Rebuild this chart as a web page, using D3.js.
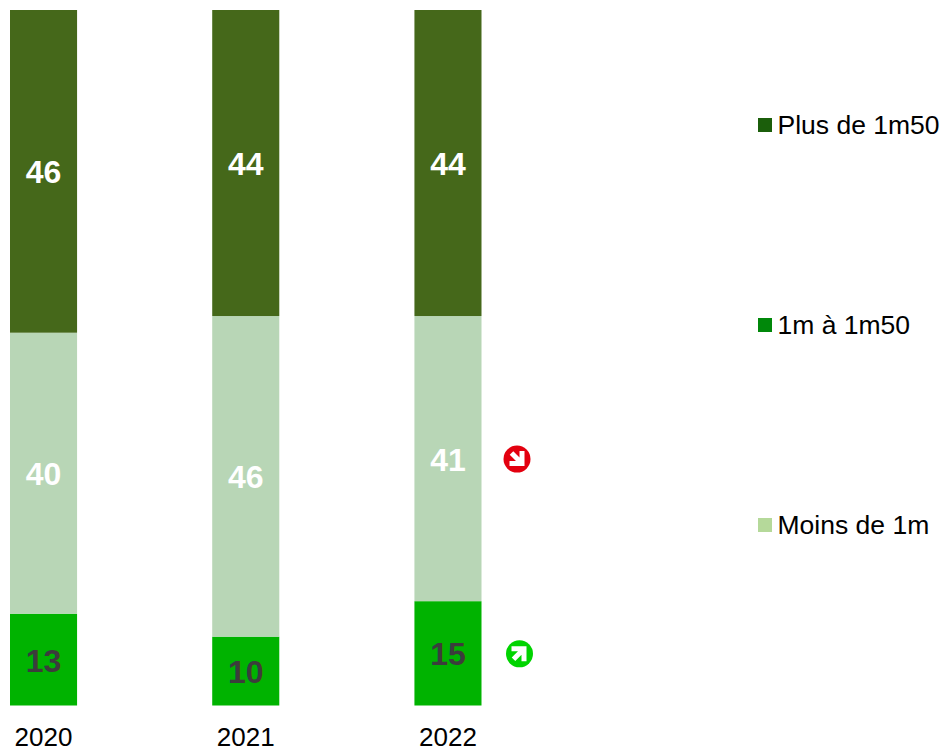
<!DOCTYPE html>
<html>
<head>
<meta charset="utf-8">
<script src="https://cdn.jsdelivr.net/npm/d3@7"></script>
<style>
    html, body { margin: 0; padding: 0; background: #fff; }
    svg { display: block; }
    text { font-family: "Liberation Sans", Arial, sans-serif; }
</style>
</head>
<body>
<div id="chart"></div>
<script>
// Stacked shares by year, bottom segment first

const years = ['2020', '2021', '2022'];
const seriesKeys = ['moins', 'milieu', 'plus'];

// labels show them rounded
const moinsValues = [13.2, 9.9, 15];
const milieuValues = [40.4, 46.1, 41];
const plusValues = [46.4, 44, 44];

const legendLabels = ['Plus de 1m50', '1m à 1m50', 'Moins de 1m'];
const trendYears = ['2022', '2022'];
const trendSeries = ['milieu', 'moins'];
const trendDirections = ['down', 'up'];

function createChart() {
    const fullWidth = 942;
    const fullHeight = 748;

    const svg = d3.select('#chart').append('svg')
        .attr('width', fullWidth)
        .attr('height', fullHeight);

    const rows = years.map((year, i) => ({
        year: year,
        moins: moinsValues[i],
        milieu: milieuValues[i],
        plus: plusValues[i]
    }));

    const stacked = d3.stack()
        .keys(seriesKeys)
        .offset(d3.stackOffsetExpand)(rows);

    // Scales
    const x = d3.scaleBand()
        .domain(years)
        .range([10, 481.5])
        .paddingInner(135 / 202);

    const y = d3.scaleLinear()
        .domain([0, 1])
        .range([705.5, 10]);

    const barColors = { moins: '#00b300', milieu: '#b8d6b6', plus: '#45681a' };
    const textColors = { moins: '#3c3c3c', milieu: '#ffffff', plus: '#ffffff' };

    // Bars and value labels
    stacked.forEach(layer => {
        const key = layer.key;
        const g = svg.append('g').attr('class', 'layer-' + key);

        g.selectAll('rect')
            .data(layer)
            .enter()
            .append('rect')
            .attr('x', d => x(d.data.year))
            .attr('y', d => y(d[1]))
            .attr('width', x.bandwidth())
            .attr('height', d => y(d[0]) - y(d[1]))
            .attr('fill', barColors[key]);

        g.selectAll('text')
            .data(layer)
            .enter()
            .append('text')
            .attr('x', d => x(d.data.year) + x.bandwidth() / 2)
            .attr('y', d => (y(d[0]) + y(d[1])) / 2 + 0.5)
            .attr('dy', '0.36em')
            .attr('text-anchor', 'middle')
            .attr('font-size', '32px')
            .attr('font-weight', 'bold')
            .attr('fill', textColors[key])
            .text(d => d3.format('.0f')(d.data[key]));
    });

    // Year axis
    const axis = svg.append('g')
        .attr('transform', 'translate(0,728)')
        .call(d3.axisBottom(x).tickSize(0).tickPadding(0));
    axis.select('.domain').remove();
    axis.selectAll('text')
        .attr('font-size', '26px')
        .attr('font-family', '"Liberation Sans", Arial, sans-serif')
        .attr('fill', '#000');

    // Trend arrows next to the last bar
    trendYears.forEach((year, i) => {
        const layer = stacked.find(l => l.key === trendSeries[i]);
        const d = layer[years.indexOf(year)];
        const isUp = trendDirections[i] === 'up';
        const cx = x(year) + x.bandwidth() + (isUp ? 38 : 35.5);
        const cy = (y(d[0]) + y(d[1])) / 2 + 0.5;
        const g = svg.append('g')
            .attr('transform', `translate(${cx},${cy}) rotate(${isUp ? 0 : 90})`);
        g.append('circle')
            .attr('r', 13.5)
            .attr('fill', isUp ? '#00d400' : '#e3000f');
        g.append('path')
            .attr('d', 'M-8,-5 H4.5 V7.5 M4,-4.5 L-6,5.5')
            .attr('fill', 'none')
            .attr('stroke', '#fff')
            .attr('stroke-width', 5);
    });

    // Legend
    const legendColors = ['#1b5e0b', '#00880a', '#b5d99a'];
    const legendY = d3.scalePoint()
        .domain(legendLabels)
        .range([125, 525]);

    const legend = svg.selectAll('.legend-item')
        .data(legendLabels)
        .enter()
        .append('g')
        .attr('class', 'legend-item')
        .attr('transform', d => `translate(758,${legendY(d)})`);

    legend.append('rect')
        .attr('x', 0)
        .attr('y', -7)
        .attr('width', 14)
        .attr('height', 14)
        .attr('fill', (d, i) => legendColors[i]);

    legend.append('text')
        .attr('x', 19.5)
        .attr('y', -0.5)
        .attr('dy', '0.36em')
        .attr('font-size', '26.5px')
        .attr('fill', '#000')
        .text(d => d);
}

createChart();
</script>
</body>
</html>
